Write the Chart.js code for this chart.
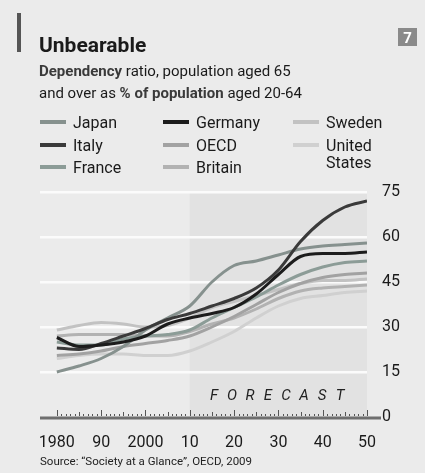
<!DOCTYPE html>
<html>
<head>
<meta charset="utf-8">
<script src="https://cdn.jsdelivr.net/npm/chart.js@4/dist/chart.umd.min.js"></script>
<style>
  html, body { margin: 0; padding: 0; background: #ebebeb; }
  canvas { display: block; }
</style>
</head>
<body>
<canvas id="chart" width="425" height="473"></canvas>
<script>
    // Años de la serie (cada cinco años) y valores del ratio de dependencia, %
    const years = [1980, 1985, 1990, 1995, 2000, 2005, 2010, 2015, 2020, 2025, 2030, 2035, 2040, 2045, 2050];

    const japan   = [15, 17, 19.5, 23.5, 29, 33, 37, 45, 50.5, 52, 54, 56, 57, 57.5, 58];
    const italy   = [23, 22.5, 24.5, 27, 29.5, 32.5, 34.5, 37, 39.5, 43, 49, 58.5, 65.5, 70, 72];
    const france  = [25, 24, 24, 26, 27, 27.5, 29, 33, 36.5, 40, 44, 47.5, 50, 51.5, 52];
    const germany = [26.5, 23.5, 24, 25, 27, 31, 33, 34.5, 36.5, 41, 47.5, 53.5, 54.5, 54.5, 55];
    const oecd    = [20.5, 21, 22, 23.5, 24.5, 25.5, 27, 30, 33.5, 37.5, 41.5, 44.5, 46.5, 47.5, 48];
    const britain = [27, 27.5, 27.5, 27.5, 27, 27, 28.5, 31, 33, 36, 39.5, 42, 43, 43.5, 44];
    const sweden  = [29, 30.5, 31.5, 31, 30, 30.5, 33, 36.5, 38.5, 40.5, 42.5, 44.5, 45.5, 45.5, 46];
    const usa     = [19.5, 20.5, 21, 21, 20.5, 20.5, 22, 25, 28.5, 33, 37, 39.5, 40.5, 41.5, 42];

    const seriesNames  = ['Japan', 'Italy', 'France', 'Germany', 'OECD', 'Britain', 'Sweden', 'United States'];
    const seriesValues = [japan, italy, france, germany, oecd, britain, sweden, usa];
    const seriesColors = ['#86918e', '#3a3a3a', '#8c9c97', '#1c1c1c', '#a2a2a2', '#b2b2b2', '#c2c2c2', '#d0d0d0'];
    const drawOrder    = [2, 1, 3, 0, 4, 5, 6, 7]; // las líneas oscuras quedan encima

    const xTicks = [1980, 1990, 2000, 2010, 2020, 2030, 2040, 2050];
    const yTicks = [0, 15, 30, 45, 60, 75];
    const forecastFrom = 2010;

    const FONT = 'Roboto, "Open Sans", sans-serif';

    const datasets = seriesNames.map((name, i) => ({
        label: name,
        data: years.map((y, j) => ({ x: y, y: seriesValues[i][j] })),
        borderColor: seriesColors[i],
        borderWidth: 3,
        pointRadius: 0,
        cubicInterpolationMode: 'monotone',
        order: drawOrder[i]
    }));

    // Cabecera, leyenda, zona de previsión y eje inferior dibujados a mano
    const decor = {
        id: 'decor',
        beforeDraw(chart) {
            const ctx = chart.ctx;
            const xs = chart.scales.x;
            const area = chart.chartArea;
            ctx.save();
            ctx.fillStyle = '#ebebeb';
            ctx.fillRect(0, 0, chart.width, chart.height);

            // zona sombreada de previsión
            const fx = xs.getPixelForValue(forecastFrom);
            ctx.fillStyle = '#e2e2e2';
            ctx.fillRect(fx, area.top, area.right - fx, area.bottom - area.top);

            // barra lateral y título
            ctx.fillStyle = '#555';
            ctx.fillRect(17, 13, 4, 39);
            ctx.fillStyle = '#1a1a1a';
            ctx.textBaseline = 'alphabetic';
            ctx.font = 'bold 21px ' + FONT;
            ctx.fillText('Unbearable', 39, 52);

            // subtítulo con partes en negrita
            const parts = [
                [[ 'Dependency', true ], [' ratio, population aged 65', false]],
                [[ 'and over as ', false ], ['% of population', true], [' aged 20-64', false]]
            ];
            parts.forEach((line, r) => {
                let x = 39;
                line.forEach(([txt, bold]) => {
                    ctx.font = (bold ? 'bold ' : '') + '15px ' + FONT;
                    ctx.fillStyle = bold ? '#3a3a3a' : '#1a1a1a';
                    ctx.fillText(txt, x, 76 + r * 22);
                    x += ctx.measureText(txt).width;
                });
            });

            // recuadro con el número
            ctx.fillStyle = '#8a8a8a';
            ctx.fillRect(398, 28, 19, 18);
            ctx.fillStyle = '#fff';
            ctx.font = 'bold 15px ' + FONT;
            ctx.textAlign = 'center';
            ctx.fillText('7', 407.5, 43);
            ctx.textAlign = 'left';

            // leyenda en tres columnas
            const cols = [40, 163, 293];
            const rows = [128, 151, 173];
            ctx.font = '16px ' + FONT;
            chart.data.datasets.forEach((ds, i) => {
                const c = Math.floor(i / 3), r = i % 3;
                const x = cols[c], y = rows[r];
                ctx.strokeStyle = ds.borderColor;
                ctx.lineWidth = 4;
                ctx.beginPath();
                ctx.moveTo(x, y - 6);
                ctx.lineTo(x + 26, y - 6);
                ctx.stroke();
                ctx.fillStyle = '#1a1a1a';
                const words = ds.label === 'United States' ? ['United', 'States'] : [ds.label];
                words.forEach((w, k) => ctx.fillText(w, x + 33, y + k * 17));
            });

            // fuente
            ctx.font = '11.5px ' + FONT;
            ctx.fillStyle = '#222';
            ctx.fillText('Source: \u201cSociety at a Glance\u201d, OECD, 2009', 40, 465);
            ctx.restore();
        },
        afterDatasetsDraw(chart) {
            const ctx = chart.ctx;
            const xs = chart.scales.x, ys = chart.scales.y;
            const y0 = ys.getPixelForValue(0);
            ctx.save();

            // texto FORECAST espaciado
            ctx.font = 'italic 15px ' + FONT;
            ctx.fillStyle = '#222';
            ctx.textAlign = 'center';
            'FORECAST'.split('').forEach((ch, i) => ctx.fillText(ch, 214 + i * 18, 400));

            // eje horizontal y marcas anuales
            ctx.strokeStyle = '#6e6e6e';
            ctx.lineWidth = 3;
            ctx.beginPath();
            ctx.moveTo(40, y0 + 1);
            ctx.lineTo(381, y0 + 1);
            ctx.stroke();
            ctx.lineWidth = 1;
            ctx.strokeStyle = '#555';
            for (let yr = xTicks[0]; yr <= xTicks[xTicks.length - 1]; yr++) {
                const px = Math.round(xs.getPixelForValue(yr)) + 0.5;
                const h = yr % 10 === 0 ? 6 : (yr % 5 === 0 ? 4 : 2);
                ctx.beginPath();
                ctx.moveTo(px, y0 - 1);
                ctx.lineTo(px, y0 - 1 - h);
                ctx.stroke();
            }
            ctx.restore();
        }
    };

    new Chart(document.getElementById('chart'), {
        type: 'line',
        data: { datasets },
        options: {
            responsive: false,
            animation: false,
            layout: { padding: { top: 192, left: 40, right: 0, bottom: 0 } },
            scales: {
                x: {
                    type: 'linear',
                    position: 'bottom',
                    min: 1976.2,
                    max: 2050,
                    grid: { display: false },
                    border: { display: false },
                    afterBuildTicks: s => { s.ticks = xTicks.map(v => ({ value: v })); },
                    afterFit: s => { s.height = 56; },
                    ticks: {
                        padding: 8,
                        color: '#1a1a1a',
                        font: { family: FONT, size: 16 },
                        maxRotation: 0,
                        autoSkip: false,
                        // años completos sólo al inicio de cada siglo/serie
                        callback: v => (v === 1980 || v === 2000) ? String(v) : String(v).slice(2)
                    }
                },
                y: {
                    position: 'right',
                    min: 0,
                    max: 75,
                    afterBuildTicks: s => { s.ticks = yTicks.map(v => ({ value: v })); },
                    afterFit: s => { s.width = 58; },
                    grid: {
                        drawTicks: false,
                        lineWidth: 2.5,
                        color: c => c.tick && c.tick.value === 0 ? 'rgba(0,0,0,0)' : '#fbfbfb'
                    },
                    border: { display: false },
                    ticks: {
                        padding: 15,
                        color: '#1a1a1a',
                        font: { family: FONT, size: 16 }
                    }
                }
            },
            plugins: {
                legend: { display: false },
                tooltip: { enabled: false }
            }
        },
        plugins: [decor]
    });
</script>
</body>
</html>
